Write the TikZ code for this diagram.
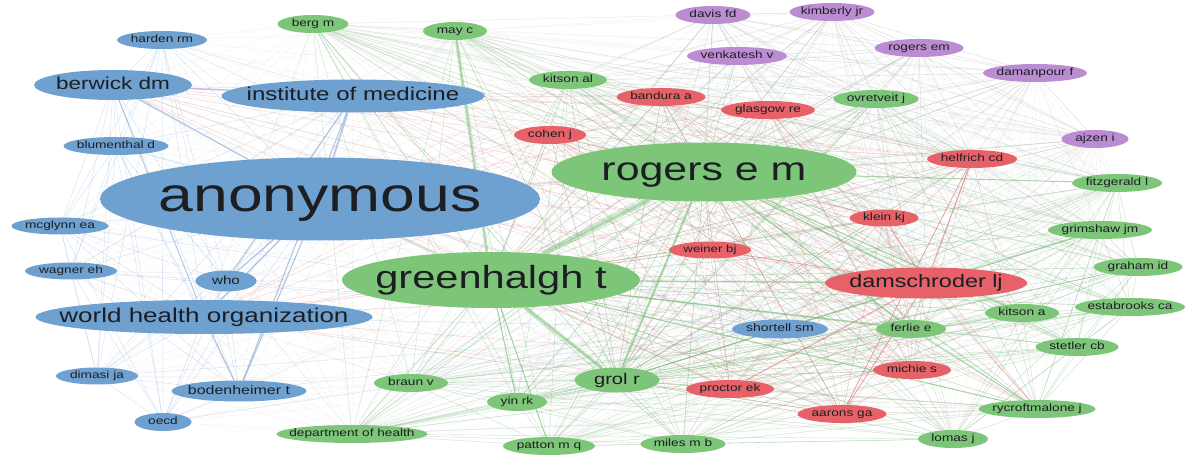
\documentclass[tikz,border=0pt]{standalone}
\usepackage{fontspec}
\newfontfamily\wide[FakeStretch=1.3]{Liberation Sans}
\usetikzlibrary{shapes.geometric}
\pgfdeclarelayer{back}
\pgfdeclarelayer{bg}
\pgfsetlayers{back,bg,main}
\definecolor{cblue}{RGB}{110,160,208}
\definecolor{cgreen}{RGB}{125,197,120}
\definecolor{cred}{RGB}{230,98,104}
\definecolor{cpurple}{RGB}{188,140,210}
\definecolor{eblue}{RGB}{120,160,210}
\definecolor{egreen}{RGB}{110,190,110}
\definecolor{ered}{RGB}{225,110,115}
\definecolor{egray}{RGB}{170,170,170}
\definecolor{txt}{RGB}{28,30,34}
\tikzset{
  nodebase/.style={ellipse, inner sep=0pt, draw=none},
  bn/.style={nodebase, fill=cblue},
  gn/.style={nodebase, fill=cgreen},
  rn/.style={nodebase, fill=cred},
  pn/.style={nodebase, fill=cpurple},
  lbl/.style={inner sep=0pt, text=txt, font=\wide, anchor=base},
  faint/.style={draw=egray, line width=0.3pt, opacity=0.18},
  eb/.style={draw=eblue, line width=0.35pt, opacity=0.35},
  eg/.style={draw=egreen, line width=0.35pt, opacity=0.3},
  er/.style={draw=ered, line width=0.35pt, opacity=0.35},
  ep/.style={draw=egray, line width=0.35pt, opacity=0.3},
  thickg/.style={draw=egreen, opacity=0.4},
  thickb/.style={draw=eblue, opacity=0.45},
  thickr/.style={draw=ered, opacity=0.45},
}
\newcommand\vn[8]{%
  \node[#1, minimum width=#5pt, minimum height=#6pt] (#2) at (#3,#4) {};
  \node[lbl] (#2t) at ([yshift={-0.26*#7pt}]#2.center) {\fontsize{#7}{#7}\selectfont #8};}
\def\Blue{harden,berwick,iom,blument,anon,mcglynn,wagner,who,whoorg,dimasi,boden,oecd,shortell}
\def\Green{berg,mayc,kitsonal,ovret,rogersem,fitz,greenh,grims,graham,estab,kitsona,ferlie,stetler,grol,braun,yin,rycroft,doh,patton,miles,lomas}
\def\Red{bandura,glasgow,cohen,helfrich,klein,weiner,damsch,michie,proctor,aarons}
\def\Purple{davis,kimberly,venk,rogemp,damanpour,ajzen}
\def\GRP{berg,mayc,kitsonal,ovret,rogersem,fitz,greenh,grims,graham,estab,kitsona,ferlie,stetler,grol,braun,yin,rycroft,doh,patton,miles,lomas,bandura,glasgow,cohen,helfrich,klein,weiner,damsch,michie,proctor,aarons,davis,kimberly,venk,rogemp,damanpour,ajzen,shortell}
\begin{document}
\begin{tikzpicture}[x=1pt,y=-1pt]
\useasboundingbox (0,0) rectangle (1186,462);
\begin{pgfonlayer}{back}
\fill[white] (0,0) rectangle (1186,462);
\end{pgfonlayer}
% blue cluster
\vn{bn}{harden}{162}{40}{90}{18}{10.5}{harden rm}
\vn{bn}{berwick}{113}{85}{158}{30}{17.3}{berwick dm}
\vn{bn}{iom}{353}{96}{263}{33}{18.5}{institute of medicine}
\vn{bn}{blument}{116}{146}{105}{18}{10.5}{blumenthal d}
\vn{bn}{anon}{320}{199}{440}{83}{48}{anonymous}
\vn{bn}{mcglynn}{60}{226}{97}{17}{10.5}{mcglynn ea}
\vn{bn}{wagner}{71}{271}{92}{17}{10.5}{wagner eh}
\vn{bn}{who}{226}{281}{61}{21}{11.7}{who}
\vn{bn}{whoorg}{204}{317}{337}{34}{20}{world health organization}
\vn{bn}{dimasi}{97}{376}{82}{17}{10.5}{dimasi ja}
\vn{bn}{boden}{239}{391}{135}{21}{12.3}{bodenheimer t}
\vn{bn}{oecd}{163}{422}{57}{18}{10.5}{oecd}
\vn{bn}{shortell}{780}{329}{96}{19}{10.8}{shortell sm}
% green cluster
\vn{gn}{berg}{313}{24}{71}{18}{10.5}{berg m}
\vn{gn}{mayc}{455}{31}{64}{18}{10.5}{may c}
\vn{gn}{kitsonal}{568}{80}{78}{18}{10.5}{kitson al}
\vn{gn}{ovret}{876}{99}{85}{18}{10.5}{ovretveit j}
\vn{gn}{rogersem}{704}{172}{305}{59}{33}{rogers e m}
\vn{gn}{fitz}{1117}{183}{90}{18}{10.5}{fitzgerald l}
\vn{gn}{greenh}{491}{280}{298}{56}{32}{greenhalgh t}
\vn{gn}{grims}{1100}{230}{104}{18}{10.5}{grimshaw jm}
\vn{gn}{graham}{1138}{267}{89}{18}{10.5}{graham id}
\vn{gn}{estab}{1130}{307}{110}{18}{10.5}{estabrooks ca}
\vn{gn}{kitsona}{1022}{313}{74}{18}{10.5}{kitson a}
\vn{gn}{ferlie}{911}{329}{70}{18}{10.5}{ferlie e}
\vn{gn}{stetler}{1077}{347}{83}{18}{10.5}{stetler cb}
\vn{gn}{grol}{617}{380}{85}{25}{15.5}{grol r}
\vn{gn}{braun}{411}{383}{74}{18}{10.5}{braun v}
\vn{gn}{yin}{517}{402}{60}{18}{10.5}{yin rk}
\vn{gn}{rycroft}{1037}{409}{117}{18}{10.5}{rycroftmalone j}
\vn{gn}{doh}{352}{434}{151}{18}{10.5}{department of health}
\vn{gn}{patton}{549}{446}{92}{18}{10.5}{patton m q}
\vn{gn}{miles}{683}{444}{85}{18}{10.5}{miles m b}
\vn{gn}{lomas}{953}{439}{70}{18}{10.5}{lomas j}
% red cluster
\vn{rn}{bandura}{661}{97}{89}{18}{10.5}{bandura a}
\vn{rn}{glasgow}{768}{110}{94}{18}{10.5}{glasgow re}
\vn{rn}{cohen}{550}{135}{72}{18}{10.5}{cohen j}
\vn{rn}{helfrich}{972}{159}{90}{18}{10.5}{helfrich cd}
\vn{rn}{klein}{884}{218}{69}{17}{10.5}{klein kj}
\vn{rn}{weiner}{710}{250}{82}{17}{10.2}{weiner bj}
\vn{rn}{damsch}{926}{283}{202}{31}{18}{damschroder lj}
\vn{rn}{michie}{912}{370}{78}{18}{10.5}{michie s}
\vn{rn}{proctor}{730}{389}{88}{18}{10.5}{proctor ek}
\vn{rn}{aarons}{842}{414}{89}{18}{10.5}{aarons ga}
% purple cluster
\vn{pn}{davis}{713}{15}{75}{18}{10.5}{davis fd}
\vn{pn}{kimberly}{832}{12}{85}{18}{10.5}{kimberly jr}
\vn{pn}{venk}{737}{56}{100}{18}{10.5}{venkatesh v}
\vn{pn}{rogemp}{919}{48}{89}{18}{10.5}{rogers em}
\vn{pn}{damanpour}{1035}{73}{104}{18}{10.5}{damanpour f}
\vn{pn}{ajzen}{1095}{139}{67}{18}{10.5}{ajzen i}
% links
\begin{pgfonlayer}{bg}
\foreach \a [count=\i] in \GRP {\foreach \b [count=\j] in \GRP {\ifnum\j>\i \draw[faint] (\a) -- (\b);\fi}}
\foreach \a [count=\i] in \Blue {\foreach \b [count=\j] in \Blue {\ifnum\j>\i \draw[eb] (\a) -- (\b);\fi}}
\foreach \a [count=\i] in \Green {\foreach \b [count=\j] in \Green {\ifnum\j>\i \draw[eg] (\a) -- (\b);\fi}}
\foreach \a [count=\i] in \Red {\foreach \b [count=\j] in \Red {\ifnum\j>\i \draw[er] (\a) -- (\b);\fi}}
\foreach \a [count=\i] in \Purple {\foreach \b [count=\j] in \Purple {\ifnum\j>\i \draw[ep] (\a) -- (\b);\fi}}
\foreach \a in \Blue {\foreach \b in {rogersem,greenh,grol,damsch,kitsonal,mayc,berg,doh,braun} {\draw[faint] (\a) -- (\b);}}
\foreach \a in \Red {\foreach \b in {rogersem,greenh,grol,ferlie,rycroft} {\draw[er] (\a) -- (\b);}}
\foreach \a in {anon,iom,whoorg,berwick} {\foreach \b in \Red {\draw[er] (\a) -- (\b);}}
\foreach \a in \Purple {\foreach \b in {rogersem,greenh,damsch,helfrich,ovret,kitsonal,anon} {\draw[ep] (\a) -- (\b);}}
\foreach \a in {rogersem,greenh,grol} {\foreach \b in \GRP {\draw[eg] (\a) -- (\b);}}
% strong links
\draw[thickg, line width=5pt] (greenh) -- (rogersem);
\draw[thickg, line width=3pt] (mayc) -- (greenh);
\draw[thickg, line width=3.5pt] (greenh) -- (grol);
\draw[thickg, line width=2.5pt] (rogersem) -- (grol);
\draw[thickg, line width=2pt] (rogersem) -- (damsch);
\draw[thickg, line width=1.5pt] (greenh) -- (damsch);
\draw[thickg, line width=1.5pt] (rogersem) -- (ferlie);
\draw[thickg, line width=1.5pt] (greenh) -- (ferlie);
\draw[thickg, line width=1.2pt] (rogersem) -- (kitsona);
\draw[thickg, line width=1.2pt] (greenh) -- (rycroft);
\draw[thickg, line width=1.2pt] (grol) -- (grims);
\draw[thickg, line width=1.2pt] (greenh) -- (patton);
\draw[thickg, line width=1.2pt] (greenh) -- (yin);
\draw[thickg, line width=1pt] (rogersem) -- (fitz);
\draw[thickg, line width=1pt] (ferlie) -- (rycroft);
\draw[faint, line width=2.5pt, opacity=0.3] (anon) -- (greenh);
\draw[faint, line width=2pt, opacity=0.3] (anon) -- (rogersem);
\draw[thickb, line width=2pt] (anon) -- (iom);
\draw[thickb, line width=1.5pt] (anon) -- (berwick);
\draw[thickb, line width=1.5pt] (iom) -- (berwick);
\draw[thickb, line width=1.5pt] (anon) -- (who);
\draw[thickb, line width=1.5pt] (anon) -- (whoorg);
\draw[thickb, line width=1.2pt] (iom) -- (boden);
\draw[thickb, line width=1.2pt] (iom) -- (who);
\draw[thickb, line width=1.2pt] (whoorg) -- (boden);
\draw[thickb, line width=1.2pt] (anon) -- (boden);
\draw[thickb, line width=1pt] (berwick) -- (whoorg);
\draw[thickr, line width=1pt] (damsch) -- (aarons);
\draw[thickr, line width=1pt] (damsch) -- (helfrich);
\draw[thickr, line width=1pt] (damsch) -- (klein);
\draw[thickr, line width=1pt] (damsch) -- (proctor);
\draw[thickr, line width=0.8pt] (helfrich) -- (aarons);
\draw[thickr, line width=0.8pt] (weiner) -- (damsch);
\end{pgfonlayer}
\end{tikzpicture}
\end{document}
